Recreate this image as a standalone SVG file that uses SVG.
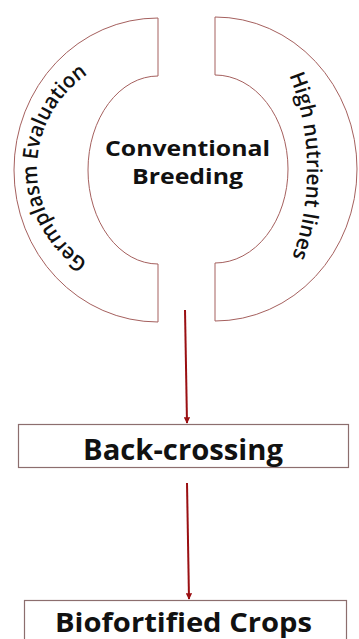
<svg xmlns="http://www.w3.org/2000/svg" width="359" height="639" viewBox="0 0 359 639">
<style>
.shape{fill:#fff;stroke:#a5605e;stroke-width:1}
.box{fill:#fff;stroke:#8c6e6e;stroke-width:1.2}
.arc{font-family:"Open Sans","Liberation Sans",sans-serif;font-size:21px;font-weight:600;fill:#111}
.bold{font-family:"Open Sans","Liberation Sans",sans-serif;font-weight:700;fill:#111;text-anchor:middle}
.conn{stroke:#9a0f12;stroke-width:2;fill:none}
</style>
<defs>
<marker id="ah" viewBox="0 0 10 10" refX="9" refY="5" markerWidth="3.2" markerHeight="3.2" orient="auto">
<path d="M0 0L10 5L0 10Z" fill="#9a0f12"/>
</marker>
<path id="lp" d="M 158 283 A 121 115 0 0 1 158 53"/>
<path id="rp" d="M 215 10 A 92 160 0 0 1 215 330"/>
</defs>
<rect width="359" height="639" fill="#fff"/>
<g id="germplasm">
<path class="shape" d="M 158 18 A 144 152 0 0 0 158 322 L 158 264 A 70 94 0 0 1 158 76 Z"/>
<text class="arc"><textPath href="#lp" startOffset="50%" text-anchor="middle" textLength="222" lengthAdjust="spacingAndGlyphs">Germplasm Evaluation</textPath></text>
</g>
<g id="highnutrient">
<path class="shape" d="M 215 17 A 142 152 0 0 1 215 321 L 215 263 A 73 94 0 0 0 215 75 Z"/>
<text class="arc" font-size="22"><textPath href="#rp" startOffset="49%" text-anchor="middle" textLength="186" lengthAdjust="spacingAndGlyphs">High nutrient lines</textPath></text>
</g>
<g id="conventional">
<text class="bold" font-size="22" x="187.5" y="156" textLength="165" lengthAdjust="spacingAndGlyphs">Conventional</text>
<text class="bold" font-size="22" x="187.5" y="184" textLength="111" lengthAdjust="spacingAndGlyphs">Breeding</text>
</g>
<g id="backcrossing">
<rect class="box" x="18.5" y="424.5" width="330" height="43"/>
<text class="bold" font-size="28" x="183" y="460" textLength="200" lengthAdjust="spacingAndGlyphs">Back-crossing</text>
</g>
<g id="biofortified">
<rect class="box" x="24.5" y="600.5" width="322" height="50"/>
<text class="bold" font-size="27" x="183.5" y="632" textLength="257" lengthAdjust="spacingAndGlyphs">Biofortified Crops</text>
</g>
<g id="connectors">
<line class="conn" x1="185" y1="310" x2="187" y2="423" marker-end="url(#ah)"/>
<line class="conn" x1="187" y1="483" x2="189" y2="599" marker-end="url(#ah)"/>
</g>
</svg>
